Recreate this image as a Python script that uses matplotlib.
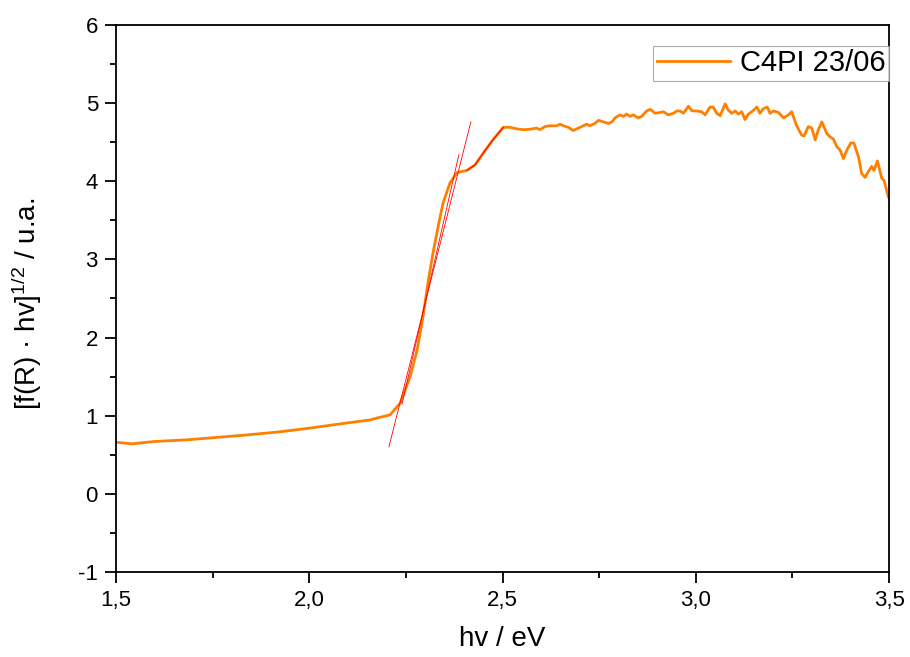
import matplotlib
matplotlib.use("Agg")
import matplotlib.pyplot as plt
from matplotlib.ticker import MultipleLocator, FuncFormatter

plt.rcParams["font.family"] = ["Liberation Sans", "DejaVu Sans"]
plt.rcParams["mathtext.default"] = "regular"

# spectrum
energy = [1.500, 1.541, 1.600, 1.680, 1.743, 1.830, 1.917, 2.000, 2.087, 2.157,
          2.175, 2.209, 2.235, 2.261, 2.279, 2.294, 2.307, 2.320, 2.333, 2.346,
          2.364, 2.382, 2.408, 2.429, 2.450, 2.475, 2.502, 2.519, 2.537, 2.554,
          2.571, 2.588, 2.597, 2.610, 2.623, 2.640, 2.649, 2.657, 2.670, 2.683,
          2.696, 2.709, 2.718, 2.726, 2.739, 2.748, 2.761, 2.774, 2.783, 2.791,
          2.804, 2.813, 2.821, 2.830, 2.838, 2.851, 2.860, 2.873, 2.882, 2.895,
          2.908, 2.916, 2.929, 2.942, 2.951, 2.959, 2.968, 2.981, 2.990, 3.002,
          3.015, 3.024, 3.037, 3.045, 3.054, 3.063, 3.076, 3.084, 3.093, 3.102,
          3.110, 3.119, 3.127, 3.136, 3.145, 3.158, 3.166, 3.175, 3.185, 3.192,
          3.201, 3.214, 3.227, 3.240, 3.248, 3.261, 3.274, 3.280, 3.291, 3.300,
          3.309, 3.317, 3.326, 3.339, 3.347, 3.356, 3.365, 3.373, 3.382, 3.391,
          3.401, 3.409, 3.421, 3.429, 3.438, 3.446, 3.455, 3.461, 3.470, 3.481,
          3.487, 3.498]
signal = [0.66, 0.64, 0.67, 0.69, 0.715, 0.75, 0.79, 0.84, 0.90, 0.945,
          0.97, 1.01, 1.16, 1.50, 1.84, 2.26, 2.70, 3.08, 3.41, 3.72,
          3.98, 4.11, 4.14, 4.21, 4.36, 4.53, 4.69, 4.69, 4.67, 4.66,
          4.665, 4.68, 4.66, 4.70, 4.71, 4.71, 4.73, 4.71, 4.69, 4.65,
          4.68, 4.71, 4.73, 4.71, 4.74, 4.78, 4.76, 4.74, 4.76, 4.81,
          4.85, 4.83, 4.86, 4.83, 4.85, 4.81, 4.83, 4.90, 4.92, 4.87,
          4.88, 4.89, 4.85, 4.87, 4.90, 4.90, 4.87, 4.96, 4.90, 4.90,
          4.89, 4.85, 4.95, 4.95, 4.87, 4.84, 4.99, 4.91, 4.87, 4.90,
          4.86, 4.89, 4.79, 4.86, 4.89, 4.95, 4.87, 4.93, 4.95, 4.87,
          4.90, 4.88, 4.81, 4.85, 4.89, 4.71, 4.59, 4.58, 4.70, 4.68,
          4.53, 4.66, 4.76, 4.61, 4.57, 4.54, 4.44, 4.40, 4.29, 4.40,
          4.49, 4.49, 4.31, 4.10, 4.05, 4.12, 4.19, 4.14, 4.26, 4.04,
          4.01, 3.80]

# tangent lines (Tauc fit)
fit1_x = [2.206, 2.418]
fit1_y = [0.60, 4.76]
fit2_x = [2.240, 2.387]
fit2_y = [1.15, 4.34]

fig = plt.figure(figsize=(9.1, 6.57), dpi=100)
ax = fig.add_axes([0.1275, 0.1294, 0.8495, 0.8326])

ax.plot(energy, signal, color="#FF8000", lw=2.0, label="C4PI 23/06")
ax.plot(fit1_x, fit1_y, color="red", lw=0.6)
ax.plot(fit2_x, fit2_y, color="red", lw=0.6)
# fitted part of the shoulder, drawn in red over the curve
sh_x = [e for e in energy if 2.40 <= e <= 2.51]
sh_y = [s for e, s in zip(energy, signal) if 2.40 <= e <= 2.51]
ax.plot(sh_x, sh_y, color="red", lw=0.7)

ax.set_xlim(1.5, 3.5)
ax.set_ylim(-1, 6)
ax.xaxis.set_major_locator(MultipleLocator(0.5))
ax.xaxis.set_minor_locator(MultipleLocator(0.25))
ax.yaxis.set_major_locator(MultipleLocator(1))
ax.yaxis.set_minor_locator(MultipleLocator(0.5))
ax.xaxis.set_major_formatter(FuncFormatter(lambda v, p: f"{v:.1f}".replace(".", ",")))
ax.yaxis.set_major_formatter(FuncFormatter(lambda v, p: f"{v:.0f}"))

ax.tick_params(which="both", direction="out", width=1.3, labelsize=16,
               top=False, right=False, pad=5)
ax.tick_params(which="major", length=8)
ax.tick_params(which="minor", length=4)
for s in ax.spines.values():
    s.set_linewidth(1.3)

ax.set_xlabel("hv / eV", fontsize=20)
ax.set_ylabel("[f(R) · hv]$^{1/2}$ / u.a.", fontsize=20)
ax.xaxis.set_label_coords(0.5, -0.098)
ax.yaxis.set_label_coords(-0.093, 0.49)

leg = ax.legend(loc="upper right", fontsize=21, fancybox=False,
                bbox_to_anchor=(1.0, 0.9616), borderaxespad=0.0,
                handlelength=2.5, handletextpad=0.35, borderpad=0.12)
leg.get_frame().set_edgecolor("#999999")
leg.get_frame().set_linewidth(0.8)

fig.savefig("out.png", dpi=100)
